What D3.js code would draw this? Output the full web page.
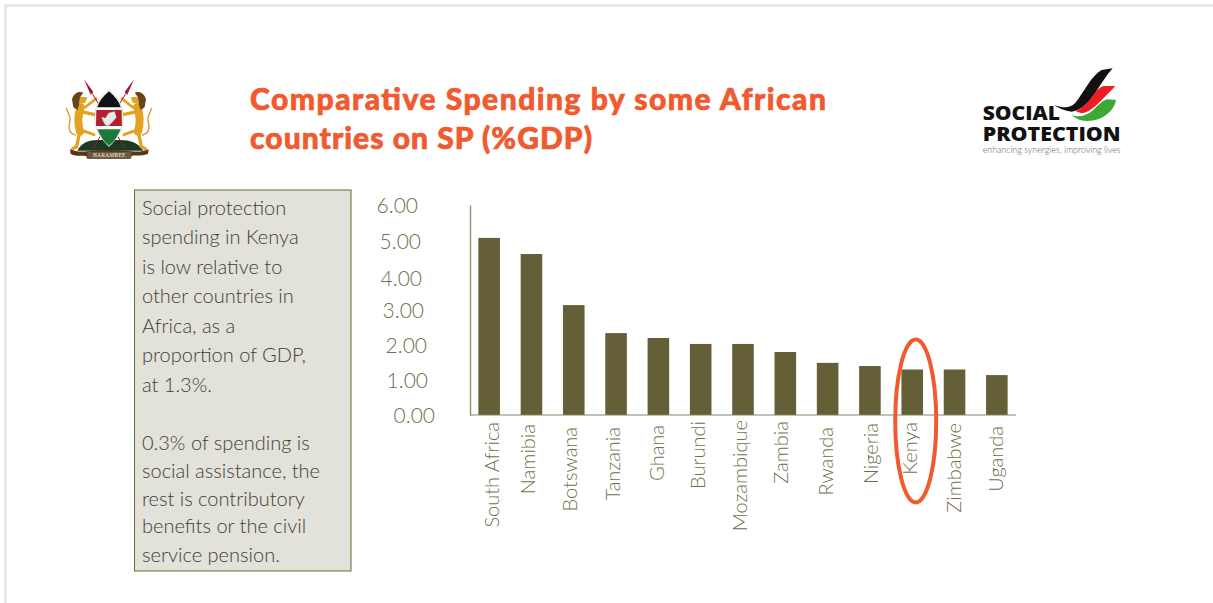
<!DOCTYPE html>
<html>
<head>
<meta charset="utf-8">
<script src="https://cdn.jsdelivr.net/npm/d3@7"></script>
<style>
  html, body { margin: 0; padding: 0; background: #fff; overflow: hidden; }
  svg { display: block; }
  text { font-family: Lato, "Open Sans", sans-serif; }
</style>
</head>
<body>
<svg id="slide" width="1213" height="603"></svg>
<script>
// Social protection spending as a share of GDP
const countries = ["South Africa", "Namibia", "Botswana", "Tanzania", "Ghana", "Burundi", "Mozambique", "Zambia", "Rwanda", "Nigeria", "Kenya", "Zimbabwe", "Uganda"];
const spendShare = [5.06, 4.6, 3.14, 2.34, 2.2, 2.03, 2.03, 1.8, 1.49, 1.4, 1.3, 1.3, 1.14];
const yTicks = [0, 1, 2, 3, 4, 5, 6];
const titleLines = ["Comparative Spending by some African", "countries on SP (%GDP)"];
const noteLines = [
  "Social protection", "spending in Kenya", "is low relative to", "other countries in",
  "Africa, as a", "proportion of GDP,", "at 1.3%.",
  "0.3% of spending is", "social assistance, the", "rest is contributory",
  "benefits or the civil", "service pension."
];
const highlighted = "Kenya";

const svg = d3.select("#slide");
const OLIVE = "#645f36", LABEL = "#6f6f4c", ORANGE = "#f15a2f";

// Slide frame
svg.append("path").attr("d", "M5.5,603V5.5H1213").attr("fill", "none")
  .attr("stroke", "#e6e7e9").attr("stroke-width", 3);

// Title
const titleY = [110, 149], titleW = [576, 342];
svg.append("g").selectAll("text").data(titleLines).join("text")
  .attr("x", 250).attr("y", (d, i) => titleY[i])
  .attr("textLength", (d, i) => titleW[i]).attr("lengthAdjust", "spacing")
  .attr("font-size", 30).attr("font-weight", 900).attr("fill", ORANGE)
  .attr("stroke", ORANGE).attr("stroke-width", 0.7)
  .text(d => d);

// Explanatory note
svg.append("rect").attr("x", 134.5).attr("y", 190).attr("width", 216.5).attr("height", 381)
  .attr("fill", "#e2e2da").attr("stroke", "#5f7233").attr("stroke-width", 1);
const noteY = [215, 244, 274, 303, 333, 362, 392, 450, 478, 506, 533, 562];
svg.append("g").selectAll("text").data(noteLines).join("text")
  .attr("x", 142).attr("y", (d, i) => noteY[i])
  .attr("font-size", 20).attr("font-weight", 300).attr("fill", "#3f3f33")
  .text(d => d);

// Chart
const x = d3.scaleBand().domain(countries).range([468, 1018]).paddingInner(0.49).paddingOuter(0.245);
const y = d3.scaleLinear().domain([0, 6]).range([415, 205]);

svg.append("g").selectAll("rect").data(countries).join("rect")
  .attr("x", d => x(d)).attr("width", x.bandwidth())
  .attr("y", (d, i) => y(spendShare[i]))
  .attr("height", (d, i) => y(0) - y(spendShare[i]))
  .attr("fill", OLIVE);

const yAxis = svg.append("g").attr("transform", "translate(470,0)")
  .call(d3.axisLeft(y).tickValues(yTicks).tickFormat(d3.format(".2f")).tickSize(0));
yAxis.select(".domain").attr("stroke", "#8f9a7c").attr("stroke-width", 1.5);

// The value labels step rightward down the axis
const tickRight = [435, 428, 427, 424, 422, 421, 418];
const tickMiddle = [415.5, 381, 346, 311, 279, 242, 205.5];
yAxis.selectAll(".tick").attr("transform", null);
yAxis.selectAll(".tick text")
  .attr("x", (d, i) => tickRight[i] - 470).attr("y", (d, i) => tickMiddle[i])
  .attr("dy", "0.35em").attr("text-anchor", "end")
  .attr("font-size", 21).attr("font-weight", 300).attr("fill", LABEL)
  .style("font-family", "Lato, sans-serif");

const xAxis = svg.append("g").attr("transform", "translate(0,415)")
  .call(d3.axisBottom(x).tickSize(0));
xAxis.select(".domain").attr("d", "M470,0H1016").attr("stroke", "#7d8a66").attr("stroke-width", 1.2);
const labelTop = [422, 424, 427, 427, 425, 421, 420, 421, 427, 423, 422, 423, 426];
const labelShift = [3, -3, -4, -3, -1, -3, -3, -4, -2, 1, -2, -1, -1];
xAxis.selectAll(".tick text")
  .attr("transform", (d, i) => `translate(${labelShift[i]},${labelTop[i] - 415}) rotate(-90)`)
  .attr("x", 0).attr("y", 0).attr("dy", "0.35em").attr("text-anchor", "end")
  .attr("font-size", 20).attr("font-weight", 300).attr("fill", LABEL)
  .style("font-family", "Lato, sans-serif");

// Ring around the highlighted country
svg.append("ellipse")
  .attr("cx", x(highlighted) + x.bandwidth() / 2 + 3.5).attr("cy", 421)
  .attr("rx", 20.5).attr("ry", 81.5)
  .attr("fill", "none").attr("stroke", ORANGE).attr("stroke-width", 4);

// National coat of arms, drawn in a 3x coordinate space
const arms = svg.append("g").attr("transform", "scale(0.3333)");
arms.append("path").attr("d", "M232,452 C245,425 275,418 300,420 L354,420 C380,418 415,425 430,452 Z").attr("fill", "#1c3a24");
const lion = arms.append("g").attr("id", "lion").attr("fill", "none").attr("stroke-linecap", "round").attr("stroke-linejoin", "round");
lion.append("path").attr("stroke", "#d9982a").attr("stroke-width", 4).attr("d", "M199,325 C206,345 214,350 208,372 C204,392 214,402 226,405");
lion.append("path").attr("stroke", "#e3a222").attr("stroke-width", 24).attr("d", "M242,322 C232,350 234,375 240,395");
lion.append("path").attr("stroke", "#e3a222").attr("stroke-width", 10).attr("d", "M246,336 L296,346");
lion.append("path").attr("stroke", "#e3a222").attr("stroke-width", 8).attr("d", "M256,322 L288,296");
lion.append("path").attr("stroke", "#e3a222").attr("stroke-width", 10).attr("d", "M238,400 L230,440 L218,446");
lion.append("path").attr("stroke", "#e3a222").attr("stroke-width", 9).attr("d", "M248,392 L282,404");
lion.append("path").attr("fill", "#e3a222").attr("stroke", "none").attr("d", "M240,290 L262,292 L256,308 L240,312 Z");
lion.append("path").attr("fill", "#6b4414").attr("stroke", "none").attr("d", "M216,298 C220,280 236,272 250,278 L240,292 L238,312 L232,330 L220,322 Z");
arms.append("use").attr("href", "#lion").attr("transform", "translate(654,0) scale(-1,1)");
arms.append("path").attr("d", "M252,238 L280,276 L272,284 Z M402,238 L374,276 L382,284 Z").attr("fill", "#a5182b");
arms.append("path").attr("d", "M276,280 L296,312 M378,280 L358,312").attr("stroke", "#a5182b").attr("stroke-width", 3);
arms.append("path").attr("d", "M280,446 L300,410 M374,446 L354,410").attr("stroke", "#a5182b").attr("stroke-width", 3);
arms.append("path").attr("d", "M327,270 C352,288 368,315 370,352 C370,388 350,420 327,440 C304,420 284,388 284,352 C286,315 302,288 327,270 Z")
  .attr("fill", "#fff").attr("stroke", "#999").attr("stroke-width", 1);
arms.append("path").attr("d", "M327,274 C346,290 358,306 362,322 L292,322 C296,306 308,290 327,274 Z").attr("fill", "#111");
arms.append("path").attr("d", "M289,330 L365,330 L366,378 L288,378 Z").attr("fill", "#b3202c");
arms.append("path").attr("d", "M292,388 L362,388 C354,408 342,426 327,437 C312,426 300,408 292,388 Z").attr("fill", "#1a7a3c");
arms.append("path").attr("d", "M308,362 L304,350 L316,354 L326,338 L344,334 L350,352 L338,366 L326,378 L316,376 Z").attr("fill", "#e8e8e8").attr("stroke", "#555").attr("stroke-width", 1);
arms.append("path").attr("d", "M210,448 C240,462 270,450 325,450 C385,450 415,462 446,448 L444,462 C420,470 405,464 395,468 L390,476 L262,476 L258,468 C240,466 225,470 212,462 Z").attr("fill", "#5a3517");
arms.append("rect").attr("x", 262).attr("y", 456).attr("width", 132).attr("height", 20).attr("rx", 3).attr("fill", "#6b5a3e");
arms.append("text").attr("x", 328).attr("y", 472).attr("text-anchor", "middle")
  .attr("font-size", 16).attr("letter-spacing", 1).attr("fill", "#f2f0e6")
  .style("font-family", "'Liberation Serif', serif").text("HARAMBEE");

// Programme logo, drawn in a 3x coordinate space
const mark = svg.append("g").attr("transform", "translate(960,50) scale(0.3333)");
mark.append("path").attr("fill", "#111")
  .attr("d", "M283,165 C310,175 330,175 345,160 C370,130 395,75 425,60 L458,55 C440,75 425,100 405,130 C385,160 365,180 335,185 C315,182 295,175 283,165 Z");
mark.append("path").attr("fill", "#ee1c25")
  .attr("d", "M345,183 C365,180 385,155 400,135 C410,120 420,112 430,108 L466,108 C450,125 435,140 420,155 C400,175 385,186 365,190 Z");
mark.append("path").attr("fill", "#3aaa35")
  .attr("d", "M335,195 C360,205 385,195 405,175 C420,160 430,150 445,148 L468,150 C465,170 450,190 425,203 C400,215 370,215 355,208 C347,204 340,200 335,195 Z");
const logoText = [["SOCIAL", 68, 210, 232, 58], ["PROTECTION", 68, 272, 414, 57]];
mark.selectAll("text.brand").data(logoText).join("text").attr("class", "brand")
  .attr("x", d => d[1]).attr("y", d => d[2])
  .attr("textLength", d => d[3]).attr("lengthAdjust", "spacingAndGlyphs")
  .attr("font-size", d => d[4]).attr("font-weight", 800).attr("fill", "#111")
  .style("font-family", "'Open Sans', sans-serif").text(d => d[0]);
mark.append("text").attr("x", 68).attr("y", 308)
  .attr("textLength", 414).attr("lengthAdjust", "spacingAndGlyphs")
  .attr("font-size", 27).attr("font-weight", 300).attr("fill", "#666")
  .text("enhancing synergies, improving lives");
</script>
</body>
</html>
